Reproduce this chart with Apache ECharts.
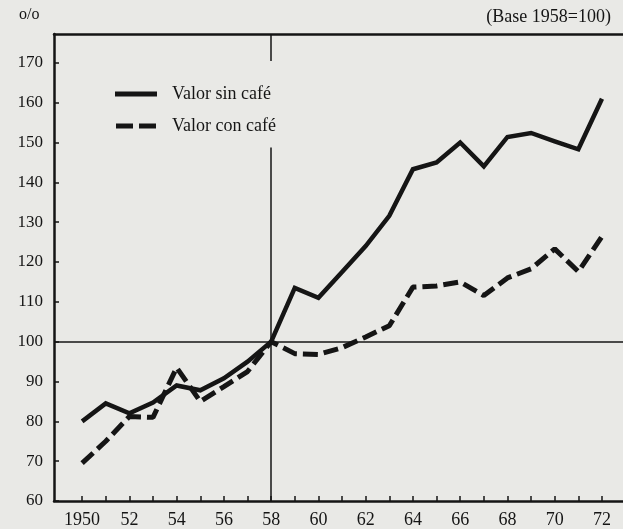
<!DOCTYPE html>
<html>
<head>
<meta charset="utf-8">
<script src="https://cdn.jsdelivr.net/npm/echarts@6/dist/echarts.min.js"></script>
<style>
  html, body { margin: 0; padding: 0; background: #e9e9e6; }
  #chart { width: 623px; height: 529px; }
</style>
</head>
<body>
<div id="chart"></div>
<script>
// años (eje x)
const years = [1950, 1951, 1952, 1953, 1954, 1955, 1956, 1957, 1958, 1959, 1960, 1961,
  1962, 1963, 1964, 1965, 1966, 1967, 1968, 1969, 1970, 1971, 1972];
// índices, base 1958 = 100
const sinCafe = [80, 84.5, 82, 84.7, 89, 87.8, 90.8, 95, 100, 113.5, 111, 117.5,
  124, 131.6, 143.3, 145, 150, 144, 151.4, 152.4, 150.3, 148.3, 161];
const conCafe = [69.5, 75, 81.2, 81, 93.5, 85, 88.7, 92.5, 100, 97, 96.8, 98.5,
  101.2, 104, 113.7, 114, 115, 111.6, 116, 118.3, 123.3, 117.6, 126.4];
// etiquetas de los ejes
const xLabelYears = [1950, 1952, 1954, 1956, 1958, 1960, 1962, 1964, 1966, 1968, 1970, 1972];
const yTicks = [60, 70, 80, 90, 100, 110, 120, 130, 140, 150, 160, 170];

const X_MIN = 1948.81, X_MAX = 1972.89;
const Y_MIN = 60, Y_MAX = 177.25;
const INK = "#151515";
const serif = "Liberation Serif";

const myChart = echarts.init(document.getElementById("chart"));

const toPairs = (vals) => years.map((y, i) => [y, vals[i]]);

const option = {
  backgroundColor: "#e9e9e6",
  animation: false,
  title: [
    { text: "o/o", left: 14, top: 2, textStyle: { fontFamily: serif, fontSize: 16, fontWeight: "normal", color: INK } },
    { text: "(Base 1958=100)", right: 7, top: 3, textStyle: { fontFamily: serif, fontSize: 18, fontWeight: "normal", color: INK } },
  ],
  legend: {
    orient: "vertical",
    left: 110,
    top: 80,
    itemWidth: 42,
    itemHeight: 5,
    itemGap: 14,
    data: [
      { name: "Valor sin café", icon: "path://M0,0H42V5H0Z" },
      { name: "Valor con café", icon: "path://M0,0H17V5H0Z M23,0H40V5H23Z" },
    ],
    itemStyle: { color: INK, borderWidth: 0 },
    textStyle: { fontFamily: serif, fontSize: 18, color: INK, padding: [0, 0, 0, 10] },
  },
  grid: { left: 54, right: 0, top: 34, bottom: 26 },
  xAxis: [
    {
      type: "value",
      min: X_MIN,
      max: X_MAX,
      axisLine: { lineStyle: { color: INK, width: 2.5 } },
      axisTick: { inside: true, length: 5, lineStyle: { color: INK, width: 1.5 }, customValues: years },
      axisLabel: {
        customValues: xLabelYears,
        margin: 10,
        fontFamily: serif,
        fontSize: 18,
        color: INK,
        formatter: (v) => (v === 1950 ? "1950" : String(v % 100)),
      },
      splitLine: { show: false },
    },
    {
      type: "value",
      position: "top",
      min: X_MIN,
      max: X_MAX,
      axisLine: { lineStyle: { color: INK, width: 2.5 } },
      axisTick: { show: false },
      axisLabel: { show: false },
      splitLine: { show: false },
    },
  ],
  yAxis: {
    type: "value",
    min: Y_MIN,
    max: Y_MAX,
    axisLine: { show: true, lineStyle: { color: INK, width: 2.5 } },
    axisTick: { show: true, inside: true, length: 5, lineStyle: { color: INK, width: 1.5 }, customValues: yTicks },
    axisLabel: { customValues: yTicks, margin: 11, fontFamily: serif, fontSize: 17, color: INK },
    splitLine: { show: false },
  },
  series: [
    {
      name: "Valor con café",
      type: "line",
      data: toPairs(conCafe),
      symbol: "none",
      lineStyle: { color: INK, width: 5, type: [15, 6], cap: "butt" },
      itemStyle: { color: INK },
      z: 2,
    },
    {
      name: "Valor sin café",
      type: "line",
      data: toPairs(sinCafe),
      symbol: "none",
      lineStyle: { color: INK, width: 4.5, join: "miter" },
      itemStyle: { color: INK },
      z: 3,
      markLine: {
        silent: true,
        symbol: "none",
        label: { show: false },
        lineStyle: { color: INK, width: 1.5, type: "solid" },
        data: [
          { yAxis: 100 },
          [{ coord: [1958, 60] }, { coord: [1958, 148.75] }],
          [{ coord: [1958, 170.5] }, { coord: [1958, Y_MAX] }],
        ],
      },
    },
  ],
};

myChart.setOption(option);
window.addEventListener("resize", myChart.resize);
</script>
</body>
</html>
